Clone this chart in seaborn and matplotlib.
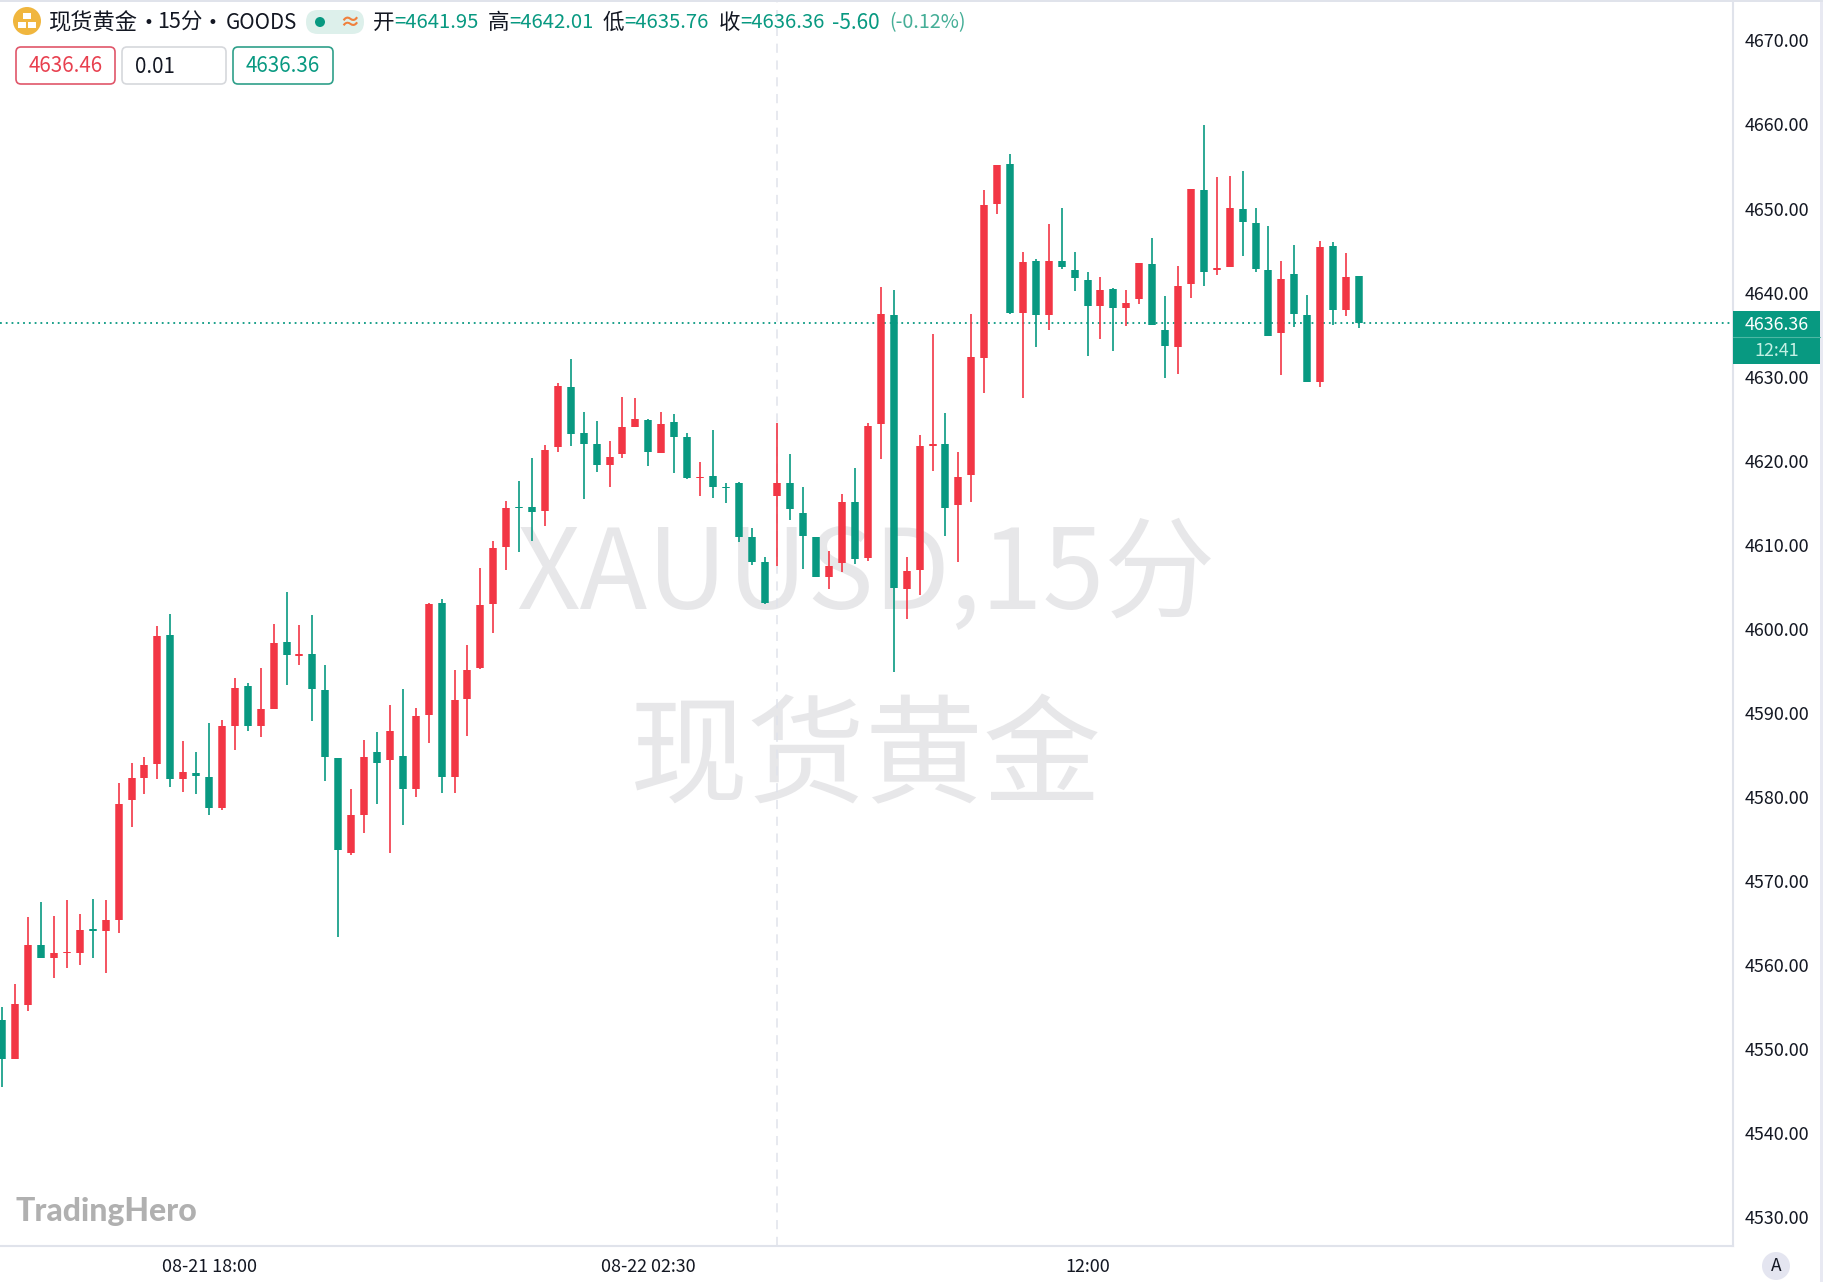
import numpy as np
import pandas as pd
import matplotlib
matplotlib.use("Agg")
import matplotlib.pyplot as plt
from matplotlib.patches import FancyBboxPatch, Circle, Rectangle
import seaborn as sns

opens = [4553.5,4548.8,4555.3,4562.4,4560.9,4561.4,4561.5,4564.3,4564.1,4565.4,
         4579.6,4582.3,4583.9,4599.3,4582.1,4582.9,4582.4,4578.7,4588.4,4593.2,
         4588.5,4590.5,4598.4,4596.8,4597.0,4592.7,4584.7,4573.4,4577.9,4585.3,
         4584.4,4584.9,4580.9,4589.8,4603.1,4582.4,4591.7,4595.3,4603.0,4609.7,
         4614.5,4614.5,4614.0,4621.6,4628.8,4623.3,4622.0,4619.5,4620.8,4624.0,
         4624.8,4620.9,4624.6,4622.8,4618.0,4618.2,4616.9,4617.3,4610.9,4607.9,
         4615.8,4617.4,4613.8,4610.9,4606.2,4607.8,4615.1,4608.4,4624.4,4637.3,
         4604.8,4607.0,4621.8,4622.0,4614.7,4618.3,4632.2,4650.5,4655.3,4637.6,
         4643.8,4637.3,4643.8,4642.7,4641.5,4638.4,4640.4,4638.2,4639.2,4643.4,
         4635.5,4633.5,4641.0,4652.2,4642.7,4643.0,4649.9,4648.3,4642.7,4635.2,
         4642.2,4637.3,4629.4,4645.5,4637.9,4641.95]
closes = [4548.8,4555.4,4562.4,4560.9,4561.4,4561.6,4564.2,4564.1,4565.4,4579.2,
          4582.3,4583.8,4599.2,4582.2,4583.0,4582.5,4578.7,4588.5,4593.0,4588.4,
          4590.5,4598.3,4596.9,4597.0,4592.8,4584.8,4573.7,4577.9,4584.8,4584.1,
          4587.8,4581.0,4589.6,4603.0,4582.4,4591.5,4595.1,4602.8,4609.6,4614.4,
          4614.4,4613.9,4621.3,4628.9,4623.2,4622.0,4619.5,4620.5,4624.0,4625.0,
          4621.0,4624.4,4622.8,4617.9,4618.1,4616.9,4616.7,4610.9,4608.0,4603.1,
          4617.3,4614.2,4611.0,4606.2,4607.5,4615.1,4608.3,4624.1,4637.4,4604.9,
          4606.9,4621.8,4622.0,4614.4,4618.1,4632.3,4650.4,4655.2,4637.6,4643.6,
          4637.3,4643.8,4643.0,4641.7,4638.4,4640.3,4638.2,4638.8,4643.5,4636.2,
          4633.7,4640.8,4652.3,4642.5,4642.9,4650.1,4648.4,4642.8,4634.8,4641.6,
          4637.5,4629.4,4645.4,4637.9,4641.9,4636.36]
highs = [4555.0,4557.8,4565.7,4567.5,4565.9,4567.8,4566.1,4567.9,4567.8,4581.7,
         4584.0,4584.8,4600.3,4601.8,4586.7,4585.4,4588.8,4589.2,4594.1,4593.6,
         4595.3,4600.6,4604.4,4600.5,4601.6,4595.7,4584.7,4580.9,4586.8,4587.7,
         4590.9,4592.8,4590.6,4603.1,4603.5,4595.1,4598.1,4607.3,4610.5,4615.2,
         4617.6,4620.3,4621.9,4629.2,4632.1,4625.8,4624.7,4622.4,4627.6,4627.5,
         4625.0,4625.8,4625.5,4623.3,4619.9,4623.7,4617.4,4617.5,4612.0,4608.6,
         4624.5,4620.8,4616.9,4610.9,4609.3,4616.1,4619.1,4624.5,4640.7,4640.3,
         4608.6,4623.1,4635.1,4625.7,4621.0,4637.5,4652.2,4655.2,4656.5,4644.8,
         4644.0,4648.1,4650.1,4644.8,4642.5,4641.9,4640.6,4640.3,4643.5,4646.5,
         4639.6,4643.2,4652.3,4659.9,4653.7,4653.9,4654.5,4650.1,4647.9,4643.8,
         4645.7,4639.7,4646.1,4646.0,4644.7,4642.01]
lows = [4545.5,4548.8,4554.5,4560.9,4558.5,4559.7,4560.0,4560.8,4559.1,4563.8,
        4576.4,4580.4,4582.1,4581.2,4580.6,4580.4,4577.9,4578.5,4585.6,4587.8,
        4587.1,4590.5,4593.3,4595.7,4589.1,4581.9,4563.4,4573.1,4575.7,4579.2,
        4573.3,4576.7,4580.0,4586.4,4580.5,4580.5,4587.3,4595.2,4599.5,4607.0,
        4609.2,4610.5,4612.2,4621.0,4621.7,4615.4,4618.7,4616.9,4620.3,4624.0,
        4619.4,4620.9,4618.5,4617.8,4615.8,4615.6,4615.0,4610.3,4607.6,4603.0,
        4607.5,4612.9,4607.1,4606.2,4604.7,4606.8,4607.7,4608.1,4620.2,4594.9,
        4601.2,4604.0,4618.8,4611.1,4608.0,4615.1,4628.1,4649.4,4637.5,4627.5,
        4633.5,4635.5,4642.8,4640.2,4632.4,4634.5,4633.0,4636.0,4638.6,4636.1,
        4629.8,4630.3,4639.4,4640.8,4642.1,4643.0,4644.3,4642.4,4634.8,4630.2,
        4635.9,4629.4,4628.8,4636.1,4637.2,4635.76]

price_ticks = [4530, 4540, 4550, 4560, 4570, 4580, 4590, 4600, 4610, 4620, 4630, 4640, 4650, 4660, 4670]
time_ticks = [16, 50, 84]
time_labels = ["08-21 18:00", "08-22 02:30", "12:00"]
crosshair_bar = 60
last_price = 4636.36

UP, DOWN = "#F23645", "#089981"
GRID = "#E0E3EB"
W, H = 1823, 1282
DPI = 100

sns.set_theme(style="white")
plt.rcParams["font.family"] = ["Noto Sans CJK SC", "DejaVu Sans"]

fig = plt.figure(figsize=(W / DPI, H / DPI), dpi=DPI, facecolor="white")
ax = fig.add_axes([0, (H - 1246) / H, 1733 / W, 1246 / H])

n = len(opens)
idx = np.arange(n)
direction = np.where(np.array(closes) >= np.array(opens), "up", "down")
wicks = pd.DataFrame({"bar": np.r_[idx, idx], "price": np.r_[lows, highs],
                      "dir": np.r_[direction, direction]})
bodies = pd.DataFrame({"bar": np.r_[idx, idx], "price": np.r_[opens, closes],
                       "dir": np.r_[direction, direction]})
palette = {"up": UP, "down": DOWN}

sns.lineplot(data=wicks, x="bar", y="price", hue="dir", units="bar", estimator=None,
             palette=palette, linewidth=1.2, solid_capstyle="butt", legend=False,
             zorder=3, ax=ax)
sns.lineplot(data=bodies, x="bar", y="price", hue="dir", units="bar", estimator=None,
             palette=palette, linewidth=5.4, solid_capstyle="butt", legend=False,
             zorder=4, ax=ax)

ax.set_xlim(-0.18, 133.96)
ax.set_ylim(4526.6, 4674.8)
ax.axvline(crosshair_bar, color=GRID, lw=1.1, ls=(0, (6, 5)), zorder=1)
ax.axhline(last_price, color=DOWN, lw=1.3, ls=(0, (1, 2.2)), zorder=2)

ax.yaxis.tick_right()
ax.set_yticks(price_ticks, [f"{p:.2f}" for p in price_ticks])
ax.set_xticks(time_ticks, time_labels)
ax.tick_params(axis="y", length=0, pad=8.5, labelsize=12.9, labelcolor="#131722")
ax.tick_params(axis="x", length=0, pad=9, labelsize=12.9, labelcolor="#131722")
ax.set_xlabel("")
ax.set_ylabel("")
ax.grid(False)
for side in ("top", "left"):
    ax.spines[side].set_visible(False)
for side in ("right", "bottom"):
    ax.spines[side].set_color(GRID)
    ax.spines[side].set_linewidth(1.5)

# pixel-space overlay for the interface furniture
ov = fig.add_axes([0, 0, 1, 1], facecolor="none")
ov.set_xlim(0, W)
ov.set_ylim(H, 0)
ov.axis("off")

# watermark, behind the candles
ax.text(866, 577, "XAUUSD,15分", transform=ov.transData, ha="center", va="center",
        fontsize=80, color="#E7E7E9", zorder=0)
ax.text(866, 761, "现货黄金", transform=ov.transData, ha="center", va="center",
        fontsize=85, color="#E7E7E9", zorder=0)

# top rule and right edge strip
ov.plot([0, W], [1, 1], color=GRID, lw=1.4)
ov.add_patch(Rectangle((1820, 0), 3, H, fc="#E8E9F2", ec="none"))

# coin icon
ov.add_patch(Circle((27, 21), 14, fc="#F0B63E", ec="none"))
for cx, cy in [(27, 16), (22, 25), (32, 25)]:
    ov.add_patch(Rectangle((cx - 4, cy - 3), 8, 6, fc="white", ec="none"))

def t(x, s, color="#131722", size=14.6, y=23, **kw):
    ov.text(x, y, s, color=color, fontsize=size, va="center", ha="left", **kw)

t(48, "现货黄金", size=16)
t(143, "•", size=12, family=["DejaVu Sans"])
t(157, "15分", size=15.5)
t(208, "•", size=12, family=["DejaVu Sans"])
t(226, "GOODS", size=14.8)
ov.add_patch(FancyBboxPatch((306, 10), 58, 24, boxstyle="round,pad=0,rounding_size=12",
                            fc="#DDF0EB", ec="none"))
ov.add_patch(Circle((320, 22), 5, fc=DOWN, ec="none"))
ov.text(350, 22, "≈", color="#F0803C", fontsize=15, ha="center", va="center", weight="bold")

for x_lab, lab, x_eq, val in [(373, "开", 395, "=4641.95"), (488, "高", 510, "=4642.01"),
                              (603, "低", 625, "=4635.76"), (719, "收", 741, "=4636.36")]:
    t(x_lab, lab, size=15.5)
    t(x_eq - 1, val, color=DOWN, size=14.6)
t(832, "-5.60", color=DOWN, size=15)
t(889, "(-0.12%)", color="#45AE97", size=14.2)

for x0, x1, ec, txt, col in [(16, 115, "#E0566A", "4636.46", "#E8404F"),
                             (122, 226, "#D6D8DC", "0.01", "#131722"),
                             (233, 333, "#2FA08A", "4636.36", DOWN)]:
    ov.add_patch(FancyBboxPatch((x0, 47), x1 - x0, 37, boxstyle="round,pad=0,rounding_size=5",
                                fc="white", ec=ec, lw=1.2))
    if txt == "0.01":
        ov.text(135, 67, txt, color=col, fontsize=14.8, ha="left", va="center")
    else:
        ov.text((x0 + x1) / 2, 66.5, txt, color=col, fontsize=14.8, ha="center", va="center")

# last price tag
ov.add_patch(Rectangle((1733, 311), 87, 53, fc=DOWN, ec="none"))
ov.plot([1733, 1820], [337, 337], color="#4DB8A4", lw=0.8)
ov.text(1777, 325, "4636.36", color="white", fontsize=12.9, ha="center", va="center", weight="medium")
ov.text(1777, 351, "12:41", color="#C4F0E4", fontsize=12.9, ha="center", va="center")

# auto scale button
ov.add_patch(Circle((1776, 1266), 14, fc="#E4E5F0", ec="none"))
ov.text(1776, 1266, "A", color="#131722", fontsize=12.5, ha="center", va="center")

# logo
ov.text(15, 1211, "TradingHero", color="#B0B0B0", fontsize=23, weight=900,
        family=["Lato", "DejaVu Sans"], ha="left", va="center")

fig.savefig("out.png", dpi=DPI, facecolor="white")
